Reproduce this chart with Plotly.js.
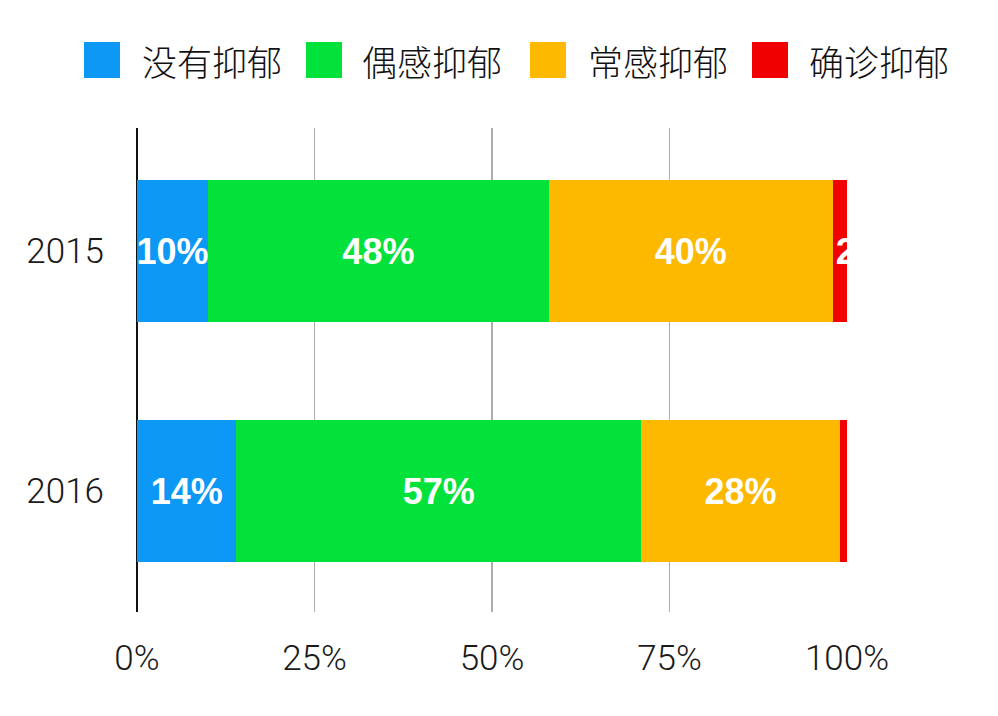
<!DOCTYPE html>
<html>
<head>
<meta charset="utf-8">
<script src="https://cdn.plot.ly/plotly-3.0.1.min.js"></script>
<style>html,body{margin:0;padding:0;background:#fff}#chart{width:998px;height:716px}</style>
</head>
<body>
<div id="chart"></div>
<script>
// ---- data ----
const years = ['2015', '2016'];
const seriesNames = ['没有抑郁', '偶感抑郁', '常感抑郁', '确诊抑郁'];
const noDepression = [10, 14];
const occasional = [48, 57];
const frequent = [40, 28];
const diagnosed = [2, 1];
const xTickVals = [0, 25, 50, 75, 100];
const xTickText = ['0%', '25%', '50%', '75%', '100%'];

// ---- styles ----
const colors = ['#0D98F6', '#02E23B', '#FDB800', '#F10000'];
const seriesValues = [noDepression, occasional, frequent, diagnosed];

const W = 998, H = 716;
const M = {l: 137, r: 151, t: 128, b: 104};
const pw = W - M.l - M.r, ph = H - M.t - M.b;
const px = x => (x - M.l) / pw;
const py = y => (H - M.b - y) / ph;

const traces = seriesValues.map((vals, i) => ({
  type: 'bar',
  orientation: 'h',
  name: seriesNames[i],
  y: years,
  x: vals,
  width: 0.592,
  marker: {color: colors[i], line: {width: 0}},
  text: vals.map(v => (i === 3 && v < 2) ? '' : v + '%'),
  textposition: 'inside',
  insidetextanchor: i === 3 ? 'start' : 'middle',
  constraintext: 'none',
  textangle: 0,
  textfont: {family: 'Liberation Sans, Arial, sans-serif', size: 36, color: '#ffffff', weight: 'bold'},
  hoverinfo: 'none',
  cliponaxis: true
}));

// custom legend (large square swatches)
const legSquareX = [84, 306, 530, 752];
const legTextX = [142, 362, 588, 809];
const shapes = seriesNames.map((n, i) => ({
  type: 'rect', xref: 'paper', yref: 'paper',
  x0: px(legSquareX[i]), x1: px(legSquareX[i] + 36),
  y0: py(78), y1: py(42),
  fillcolor: colors[i], line: {width: 0}
}));
const annotations = seriesNames.map((n, i) => ({
  text: n, xref: 'paper', yref: 'paper',
  x: px(legTextX[i] - 2), y: py(60),
  xanchor: 'left', yanchor: 'middle', showarrow: false,
  font: {family: 'Noto Sans CJK SC, sans-serif', size: 35, color: '#111', weight: 300}
}));

const tickFont = {family: 'Roboto, Liberation Sans, Arial, sans-serif', size: 35, color: '#1a1a1a', weight: 300};

const layout = {
  width: W, height: H,
  margin: M,
  barmode: 'stack',
  showlegend: false,
  paper_bgcolor: '#fff', plot_bgcolor: '#fff',
  xaxis: {
    range: [0, 100],
    tickvals: xTickVals, ticktext: xTickText,
    showgrid: true, gridcolor: '#adadad', gridwidth: 1.5,
    zeroline: true, zerolinecolor: '#111', zerolinewidth: 2,
    showline: false, ticks: '',
    ticklabelstandoff: 22,
    tickfont: tickFont,
    fixedrange: true
  },
  yaxis: {
    type: 'category',
    categoryorder: 'array', categoryarray: ['2016', '2015'],
    range: [-0.504, 1.5125],
    showgrid: false, zeroline: false, showline: false, ticks: '',
    ticklabelstandoff: 32,
    tickfont: tickFont,
    fixedrange: true
  },
  shapes: shapes,
  annotations: annotations
};

Plotly.newPlot('chart', traces, layout, {displayModeBar: false, staticPlot: true});
</script>
</body>
</html>
